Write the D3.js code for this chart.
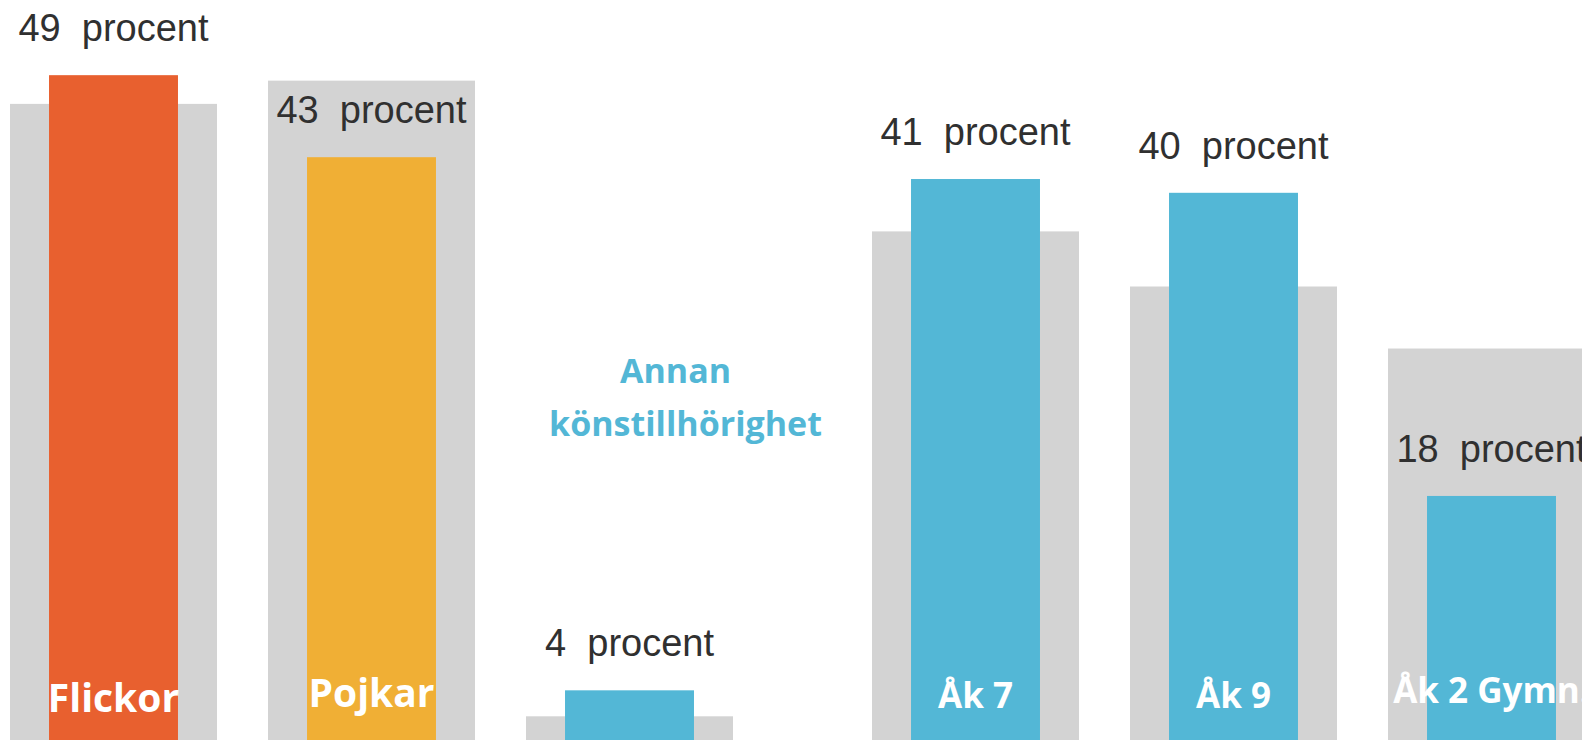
<!DOCTYPE html>
<html lang="sv">
<head>
<meta charset="utf-8">
<script src="https://cdn.jsdelivr.net/npm/d3@7"></script>
<style>
  html, body { margin: 0; padding: 0; background: #fff; overflow: hidden; }
  svg { display: block; }
</style>
</head>
<body>
<svg id="chart" width="1582" height="740"></svg>
<script>
// Andel (procent) per grupp – kön och årskurs
const genderCategories = ["Flickor", "Pojkar", "Annan könstillhörighet"];
const genderValues     = [49, 43, 4];
const genderReference  = [46.9, 48.6, 2.1];

const gradeCategories  = ["Åk 7", "Åk 9", "Åk 2 Gymn."];
const gradeValues      = [41, 40, 18];
const gradeReference   = [37.2, 33.2, 28.7];

const valueSuffix = "  procent";

const COLORS = {
  "Flickor": "#E8602F",
  "Pojkar": "#F0AF35",
  "Annan könstillhörighet": "#53B7D6",
  "Åk 7": "#53B7D6",
  "Åk 9": "#53B7D6",
  "Åk 2 Gymn.": "#53B7D6"
};
const GREY = "#D3D3D3";

// per-label font size and baseline for the category names drawn inside the bars
const nameStyle = {
  "Flickor":    { size: 39, baseline: 712 },
  "Pojkar":     { size: 39, baseline: 707 },
  "Åk 7":       { size: 35, baseline: 708 },
  "Åk 9":       { size: 35, baseline: 708 },
  "Åk 2 Gymn.": { size: 35, baseline: 703 }
};

const svg = d3.select("#chart");

function drawPanel(categories, values, reference, xRange, yRange) {
  const x = d3.scaleBand()
    .domain(categories)
    .range(xRange)
    .paddingInner(51 / 258)
    .paddingOuter(0);
  const y = d3.scaleLinear().domain([0, 50]).range(yRange);

  const rows = categories.map((c, i) => ({ cat: c, value: values[i], ref: reference[i] }));
  const inner = x.bandwidth() * 0.623;
  const off = (x.bandwidth() - inner) / 2;

  const g = svg.append("g");

  // wide grey reference bars
  g.selectAll("rect.ref").data(rows).join("rect")
    .attr("class", "ref")
    .attr("x", d => x(d.cat))
    .attr("width", x.bandwidth())
    .attr("y", d => y(d.ref))
    .attr("height", d => y(0) - y(d.ref))
    .attr("fill", GREY);

  // coloured value bars
  g.selectAll("rect.val").data(rows).join("rect")
    .attr("class", "val")
    .attr("x", d => x(d.cat) + off)
    .attr("width", inner)
    .attr("y", d => y(d.value))
    .attr("height", d => y(0) - y(d.value))
    .attr("fill", d => COLORS[d.cat]);

  // value labels above the bars
  g.selectAll("text.value").data(rows).join("text")
    .attr("class", "value")
    .attr("x", d => x(d.cat) + x.bandwidth() / 2)
    .attr("y", d => y(d.value) - 34)
    .attr("text-anchor", "middle")
    .attr("xml:space", "preserve")
    .style("white-space", "pre")
    .attr("font-family", "'Liberation Sans', Arial, sans-serif")
    .attr("font-size", 38)
    .attr("fill", "#303030")
    .text(d => d.value + valueSuffix);

  // category names inside the bars
  g.selectAll("text.name").data(rows.filter(d => nameStyle[d.cat])).join("text")
    .attr("class", "name")
    .attr("x", d => x(d.cat) + x.bandwidth() / 2)
    .attr("y", d => nameStyle[d.cat].baseline)
    .attr("text-anchor", "middle")
    .attr("font-family", "'Open Sans', 'Noto Sans', sans-serif")
    .attr("font-weight", 700)
    .attr("font-size", d => nameStyle[d.cat].size)
    .attr("fill", "#ffffff")
    .text(d => d.cat);

  return { x, y, g };
}

const left = drawPanel(genderCategories, genderValues, genderReference, [10, 733], [745, 61.5]);
drawPanel(gradeCategories, gradeValues, gradeReference, [872, 1595], [744, 55]);

// the small bar gets its name as a two-line heading above it
const other = genderCategories[2];
const cx = left.x(other) + left.x.bandwidth() / 2;
const words = ["Annan", "könstillhörighet"];
left.g.append("text")
  .attr("font-family", "'Open Sans', 'Noto Sans', sans-serif")
  .attr("font-weight", 700)
  .attr("font-size", 34)
  .attr("fill", COLORS[other])
  .attr("text-anchor", "middle")
  .selectAll("tspan").data(words).join("tspan")
    .attr("x", (d, i) => cx + (i === 0 ? 46 : 56))
    .attr("y", (d, i) => 383 + i * 53)
    .text(d => d);
</script>
</body>
</html>
